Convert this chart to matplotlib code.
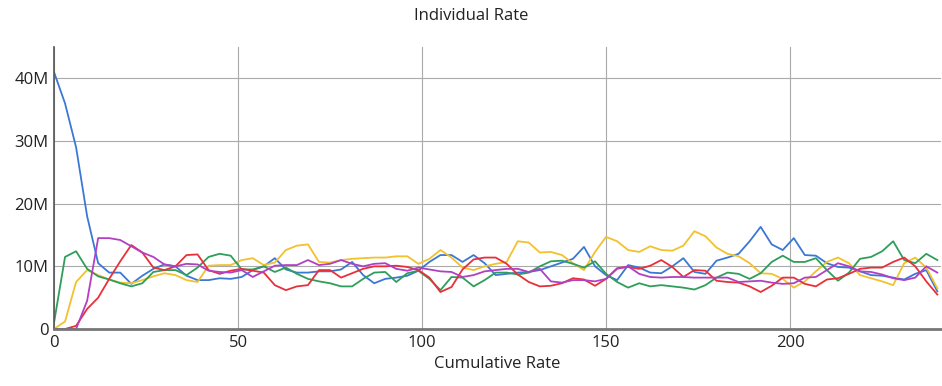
import numpy as np
import matplotlib
matplotlib.use("Agg")
import matplotlib.pyplot as plt

plt.rcParams['font.family'] = ['Open Sans', 'DejaVu Sans']

# x positions (cumulative rate), values in millions
x = np.arange(0, 243, 3)

blue = [41, 36, 29, 18, 10.5, 9, 9, 7.2, 8.5, 9.6,
        10.3, 10, 8.5, 7.8, 7.8, 8.1, 8, 8.3, 9.4, 10,
        11.3, 9.5, 9, 9, 9.2, 9.2, 9.5, 10.7, 8.6, 7.3,
        8, 8.2, 8.5, 9.3, 10.7, 11.8, 11.8, 10.7, 11.8, 10.5,
        8.6, 8.8, 9, 9.1, 9.4, 10, 10.6, 11.2, 13.1, 10,
        8.6, 7.8, 10.2, 9.8, 9, 8.9, 10, 11.3, 9.1, 8.8,
        10.9, 11.4, 12, 14, 16.3, 13.5, 12.6, 14.5, 11.8, 11.7,
        10.5, 9.9, 9.8, 9.2, 8.6, 8.5, 8.2, 7.9, 8.8, 9.4,
        6]
yellow = [0, 1.2, 7.5, 9.4, 8.6, 7.9, 7.4, 7.3, 7.8, 8.4,
          8.9, 8.6, 7.8, 7.5, 10.1, 10.2, 10.2, 11, 11.3, 10.2,
          10.6, 12.6, 13.3, 13.5, 10.7, 10.6, 11, 11.2, 11.3, 11.4,
          11.4, 11.6, 11.6, 10.4, 11.2, 12.6, 11.4, 9.8, 9.4, 10,
          10.4, 10.7, 14, 13.8, 12.2, 12.3, 11.8, 10.5, 9.4, 12.3,
          14.7, 14, 12.6, 12.3, 13.2, 12.6, 12.5, 13.3, 15.6, 14.8,
          13, 12, 11.6, 10.5, 8.9, 8.8, 8, 6.6, 7.6, 9.2,
          10.7, 11.4, 10.5, 8.6, 8.1, 7.6, 7, 10.5, 11.4, 9.8,
          6.5]
green = [1, 11.5, 12.4, 9.6, 8.4, 7.9, 7.3, 6.8, 7.3, 9.1,
         9.4, 9.4, 8.6, 9.8, 11.5, 12, 11.7, 9.5, 9.5, 10,
         9.1, 9.8, 8.8, 8, 7.6, 7.3, 6.8, 6.8, 8, 9,
         9.1, 7.5, 8.9, 9.3, 8, 6.2, 8.3, 8.2, 6.8, 7.8,
         9, 9, 8.7, 9, 10, 10.8, 10.9, 10.4, 9.8, 10.8,
         8.8, 7.5, 6.6, 7.3, 6.8, 7, 6.8, 6.6, 6.3, 7,
         8.2, 9, 8.8, 8, 8.9, 10.7, 11.7, 10.7, 10.7, 11.3,
         9.4, 7.7, 9, 11.2, 11.5, 12.4, 14, 11, 10.5, 12,
         11]
red = [0, 0, 0.5, 3.2, 5, 8, 10.8, 13.4, 12.2, 9.8,
       9.4, 10, 11.8, 11.9, 9.4, 8.8, 9.3, 9.6, 9.3, 9,
       7, 6.2, 6.8, 7, 9.4, 9.4, 8.2, 8.9, 9.6, 10,
       10, 10.1, 9.9, 9.4, 8.2, 5.9, 6.7, 9.5, 11.1, 11.4,
       11.4, 10.4, 8.7, 7.5, 6.8, 6.9, 7.3, 8.1, 7.9, 6.9,
       8, 9.7, 9.9, 9.6, 10.1, 11, 9.9, 8.3, 9.4, 9.3,
       7.7, 7.5, 7.4, 6.8, 5.9, 6.9, 8.2, 8.2, 7.2, 6.8,
       7.9, 8.1, 8.8, 9.6, 9.8, 9.8, 10.7, 11.4, 10, 7.6,
       5.5]
purple = [0, 0, 0, 4.5, 14.5, 14.5, 14.2, 13.2, 12.2, 11.5,
          10.3, 10, 10.4, 10.3, 9.3, 9.1, 9, 9.4, 8.3, 9.2,
          10.1, 10.2, 10.2, 11, 10.2, 10.4, 11, 10.4, 10, 10.4,
          10.5, 9.6, 9.3, 9.8, 9.5, 9.2, 9.1, 8.3, 8.6, 9.2,
          9.4, 9.6, 9.6, 9.1, 9.6, 7.6, 7.4, 7.8, 7.8, 7.6,
          8, 9.6, 10, 8.8, 8.3, 8.2, 8.3, 8.3, 8.2, 8.2,
          8.2, 8.2, 7.5, 7.6, 7.7, 7.4, 7.2, 7.3, 8.2, 8.3,
          9.4, 10.5, 10, 9.2, 9.1, 8.7, 8.1, 7.8, 8.2, 10,
          9]

yticks = [0, 10, 20, 30, 40]
ytick_labels = ['0', '10M', '20M', '30M', '40M']
xticks = [0, 50, 100, 150, 200]

fig = plt.figure(figsize=(9.42, 3.86), dpi=100)
ax = fig.add_axes([54/942, 57/386, 887/942, 282/386])

series = [(blue, '#3b78d6'), (yellow, '#f2c12e'), (green, '#2f9e5a'),
          (red, '#e8303a'), (purple, '#b23fc4')]
for vals, c in series:
    ax.plot(x, vals, color=c, lw=1.3)

ax.set_xlim(0, 241)
ax.set_ylim(0, 45)
ax.set_xticks(xticks)
ax.set_yticks(yticks)
ax.set_yticklabels(ytick_labels)
ax.grid(True, color='#aaaaaa', lw=0.8)
ax.set_axisbelow(True)
for s in ['top', 'right']:
    ax.spines[s].set_visible(False)
ax.spines['left'].set_color('#555555')
ax.spines['bottom'].set_color('#777777')
ax.spines['bottom'].set_linewidth(2)
ax.spines['left'].set_linewidth(1.2)
ax.tick_params(length=0, labelsize=12, colors='#222222', pad=4)

ax.set_xlabel('Cumulative Rate', fontsize=12, color='#222222', labelpad=4)
fig.text(0.5, 1 - 16/386, 'Individual Rate', ha='center', va='center',
         fontsize=12, color='#222222')

fig.savefig('out.png', dpi=100)
